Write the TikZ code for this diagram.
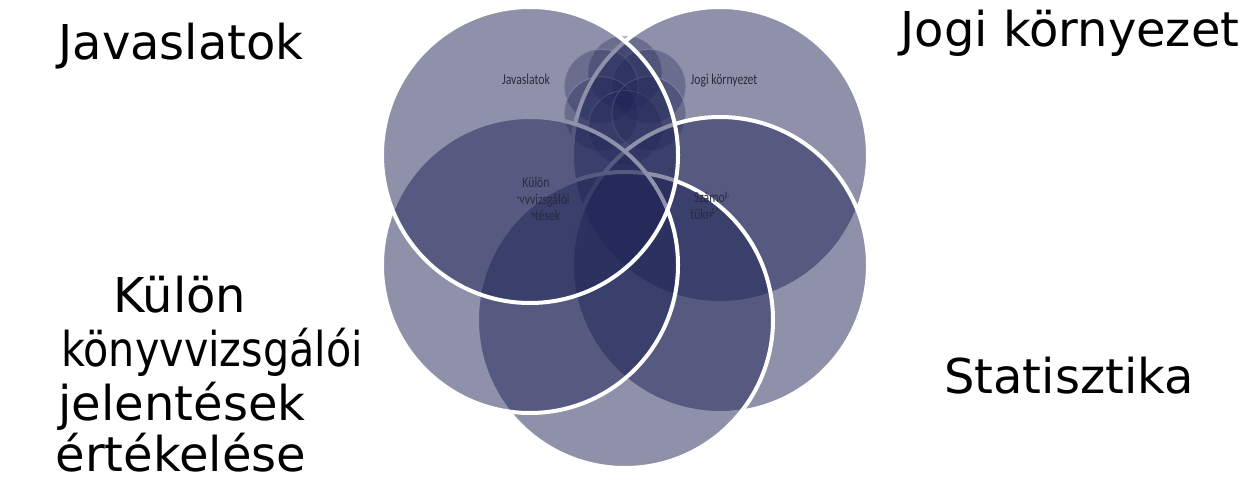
\documentclass[tikz,border=0pt]{standalone}
\usepackage{fontspec}
\setmainfont{DejaVu Sans}
\newfontfamily\innerfont{Carlito}
\definecolor{navy}{RGB}{31,36,86}
\definecolor{inktext}{RGB}{40,42,64}
\begin{document}
\begin{tikzpicture}[x=1pt,y=-1pt,
  petal/.style={circle,inner sep=0pt,outer sep=0pt,minimum size=296pt,
    fill=navy,fill opacity=0.5,draw=white,line width=4pt},
  minipetal/.style={circle,inner sep=0pt,outer sep=0pt,minimum size=74pt,
    fill=navy,fill opacity=0.33,draw=white,draw opacity=0.7,line width=0.8pt},
  biglabel/.style={font=\fontsize{48}{54}\selectfont,text=black,anchor=base,inner sep=0pt},
  smalllabel/.style={font=\innerfont\fontsize{15}{16.5}\selectfont,text=inktext,
    anchor=base,inner sep=0pt}]
\useasboundingbox (0,0) rectangle (1249,481);

% small thumbnail of the diagram in the free top slot
\foreach \a/\n in {90/m1,30/m2,150/m3,210/m4,270/m5,330/m6}
  \node[minipetal] (\n) at ({625+27.5*cos(\a)},{100-27.5*sin(\a)}) {};

% the five main circles, back to front
\node[petal] (jogi)  at (720,155) {};
\node[petal] (stat)  at (720,265) {};
\node[petal] (bottom) at (625,320) {};
\node[petal] (kulon) at (530,265) {};
\node[petal] (jav)   at (530,155) {};

% captions inside the circles
\node[smalllabel] (tjav) at (526,85) {\scalebox{0.78}[1]{Javaslatok}};
\node[smalllabel] (tjogi) at (724,85) {\scalebox{0.78}[1]{Jogi környezet}};
\begin{scope}
  \clip (478,150) -- (600,150) -- (600,240) -- (553,240) -- cycle;
  \node[smalllabel,align=center,anchor=north] (tkulon) at (536,177)
    {\scalebox{0.78}[1]{Külön}\\\scalebox{0.78}[1]{könyvvizsgálói}\\\scalebox{0.78}[1]{jelentések}};
\end{scope}
\begin{scope}
  \clip (660,180) -- (740,180) -- (692,240) -- (660,240) -- cycle;
  \node[smalllabel,align=center,anchor=north] (tszam) at (712,192)
    {\scalebox{0.78}[1]{Számok}\\\scalebox{0.78}[1]{tükrében}};
\end{scope}

% outer labels
\node[biglabel] (ljav) at (181,60) {Javaslatok};
\node[biglabel] (ljogi) at (1070,47) {Jogi környezet};
\node[biglabel] (lstat) at (1069,393) {Statisztika};
\node[biglabel] (lk1) at (180,312) {Külön};
\node[biglabel] (lk2) at (212,366) {\scalebox{0.86}[1]{könyvvizsgálói}};
\node[biglabel] (lk3) at (182,420) {jelentések};
\node[biglabel] (lk4) at (181,471) {értékelése};
\end{tikzpicture}
\end{document}
